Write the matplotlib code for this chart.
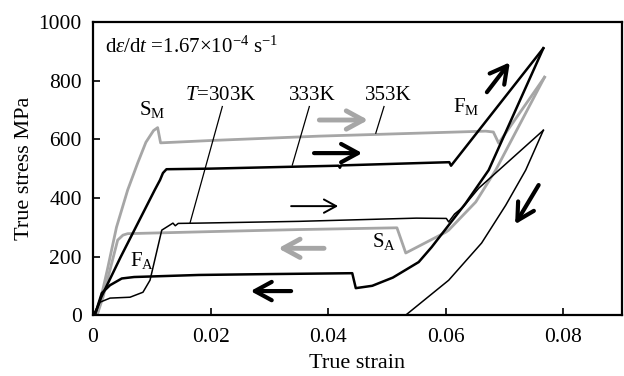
import matplotlib
matplotlib.use("Agg")
import matplotlib.pyplot as plt

plt.rcParams['font.family'] = ['Liberation Serif', 'DejaVu Serif']
plt.rcParams['mathtext.fontset'] = 'custom'
plt.rcParams['mathtext.rm'] = 'Liberation Serif'
plt.rcParams['mathtext.it'] = 'Liberation Serif:italic'
plt.rcParams['font.size'] = 15

# 353K (gris): carga y descarga
g_load_x = [0.0007, 0.0025, 0.0040, 0.0059, 0.0076, 0.0090, 0.0103, 0.0110, 0.0115,
            0.020, 0.0385, 0.0668, 0.0681, 0.0690, 0.0768]
g_load_y = [0, 160, 300, 427, 519, 590, 630, 640, 588,
            596, 611, 628, 625, 587, 812]
g_unl_x = [0.0768, 0.0685, 0.0651, 0.0605, 0.0600, 0.0532, 0.0517, 0.035, 0.020,
           0.0059, 0.0051, 0.0042, 0.0017, 0.0007]
g_unl_y = [812, 495, 386, 290, 283, 212, 298, 292, 285,
           278, 273, 256, 61, 0]

# 333K (negro grueso)
b_load_x = [0.0003, 0.0014, 0.0047, 0.0105, 0.0114, 0.0119, 0.0125, 0.020, 0.035,
            0.0418, 0.0420, 0.0422, 0.0555, 0.0606, 0.0609, 0.0766]
b_load_y = [0, 61, 198, 427, 461, 485, 498, 500, 507,
            510, 503, 511, 519, 522, 510, 911]
b_unl_x = [0.0766, 0.0673, 0.0634, 0.0576, 0.0554, 0.051, 0.0475, 0.0447, 0.0441,
           0.030, 0.018, 0.0070, 0.0049, 0.0029, 0.0015, 0.0003]
b_unl_y = [911, 495, 382, 232, 181, 128, 100, 92, 143,
           140, 137, 130, 125, 102, 75, 0]

# 303K (negro fino)
t_load_x = [0.0, 0.0012, 0.0029, 0.0063, 0.0085, 0.0097, 0.0117, 0.0136, 0.0140,
            0.0145, 0.018, 0.035, 0.055, 0.0601, 0.0605, 0.0615, 0.063, 0.0656, 0.0766]
t_load_y = [0, 44, 58, 61, 78, 119, 290, 314, 305,
            313, 314, 320, 331, 330, 318, 345, 370, 433, 631]
t_unl_x = [0.0766, 0.0736, 0.0702, 0.0661, 0.0605, 0.0532]
t_unl_y = [631, 495, 375, 246, 119, 0]

x_ticks = [0, 0.02, 0.04, 0.06, 0.08]
x_labels = ['0', '0.02', '0.04', '0.06', '0.08']
y_ticks = [0, 200, 400, 600, 800, 1000]

gris = '#a6a6a6'

fig = plt.figure(figsize=(6.24, 3.76), dpi=100)
ax = fig.add_axes([0.149, 0.162, 0.848, 0.779])

ax.plot(g_load_x, g_load_y, color=gris, lw=2)
ax.plot(g_unl_x, g_unl_y, color=gris, lw=2)
ax.plot(b_load_x, b_load_y, color='k', lw=1.8)
ax.plot(b_unl_x, b_unl_y, color='k', lw=1.8)
ax.plot(t_load_x, t_load_y, color='k', lw=1.1)
ax.plot(t_unl_x, t_unl_y, color='k', lw=1.1)

# flechas (cola, punta, color, grosor, escala)
flechas = [
    ((0.0385, 666), (0.0468, 666), gris, 3.5, 22),
    ((0.0376, 553), (0.0458, 553), 'k', 3, 22),
    ((0.0337, 372), (0.0417, 372), 'k', 1.4, 16),
    ((0.0393, 228), (0.0315, 228), gris, 3.5, 22),
    ((0.0337, 82), (0.0268, 82), 'k', 3, 22),
    ((0.0670, 761), (0.0709, 863), 'k', 3, 22),
    ((0.0758, 444), (0.0718, 310), 'k', 3, 22),
]
for cola, punta, c, w, m in flechas:
    ax.annotate('', xy=punta, xytext=cola,
                arrowprops=dict(arrowstyle='->, head_length=0.55, head_width=0.3',
                                color=c, lw=w, mutation_scale=m,
                                shrinkA=0, shrinkB=0))

# lineas guia de las etiquetas
ax.plot([0.0220, 0.0165], [712, 314], color='k', lw=0.9)
ax.plot([0.0368, 0.0339], [712, 512], color='k', lw=0.9)
ax.plot([0.0495, 0.0481], [712, 621], color='k', lw=0.9)

ax.text(0.002, 913, r'd$\varepsilon$/d$t$ =1.67×10$^{-4}$ s$^{-1}$', ha='left', va='center')
ax.text(0.0156, 734, r'$T$=303K', ha='left', va='baseline')
ax.text(0.0334, 734, '333K', ha='left', va='baseline')
ax.text(0.0463, 734, '353K', ha='left', va='baseline')
ax.text(0.0078, 683, r'S$_\mathrm{M}$', ha='left', va='baseline')
ax.text(0.0612, 693, r'F$_\mathrm{M}$', ha='left', va='baseline')
ax.text(0.0063, 167, r'F$_\mathrm{A}$', ha='left', va='baseline')
ax.text(0.0475, 232, r'S$_\mathrm{A}$', ha='left', va='baseline')

ax.set_xlim(0, 0.09)
ax.set_ylim(0, 1000)
ax.set_xticks(x_ticks)
ax.set_xticklabels(x_labels)
ax.set_yticks(y_ticks)
ax.tick_params(direction='in', length=5, width=1.2, labelsize=15.5)
ax.tick_params(axis='x', pad=9)
ax.tick_params(axis='y', pad=8)
for s in ax.spines.values():
    s.set_linewidth(1.6)
ax.set_xlabel('True strain', fontsize=16, labelpad=5)
ax.set_ylabel('True stress MPa', fontsize=16, labelpad=3)

fig.savefig('out.png', dpi=100)
